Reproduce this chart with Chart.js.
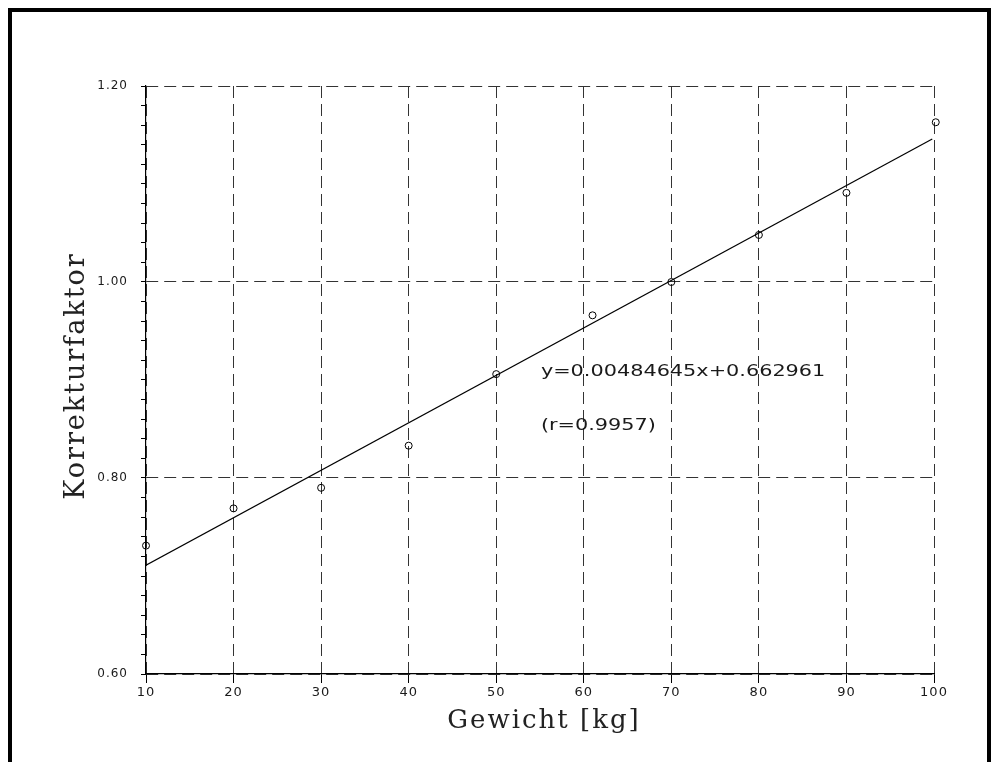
<!DOCTYPE html>
<html>
<head>
<meta charset="utf-8">
<title>Korrekturfaktor</title>
<script src="https://cdn.jsdelivr.net/npm/chart.js@4/dist/chart.umd.min.js"></script>
<style>
  html, body { margin: 0; padding: 0; background: #fff; }
  #wrap { position: relative; width: 998px; height: 762px; overflow: hidden; }
  #frame {
    position: absolute; left: 8px; top: 8px; width: 983px; height: 800px;
    border: 4px solid #000; box-sizing: border-box; pointer-events: none;
  }
</style>
</head>
<body>
<div id="wrap">
  <canvas id="korrChart" width="998" height="762"></canvas>
  <div id="frame"></div>
</div>
<script>
const weightKg = [10, 20, 30, 40, 50, 61, 70, 80, 90, 100.2];
const correction = [0.731, 0.769, 0.790, 0.833, 0.906, 0.966, 1.000, 1.048, 1.091, 1.163];

// regression line end points (as drawn)
const fitX = [10, 99.8];
const fitY = [0.711, 1.146];

// axis ranges / ticks
const xRange = [10, 100];
const xStep = 10;
const yRange = [0.60, 1.20];
const yMinorStep = 0.02;
const yMajorStep = 0.2;

// axis titles
const xTitle = 'Gewicht [kg]';
const yTitle = 'Korrekturfaktor';

// annotation text
const equationLines = ['y=0.00484645x+0.662961', '(r=0.9957)'];
const equationX = 55.1;
const equationY = [0.908, 0.853];

const isMajorY = v => Math.abs(v / yMajorStep - Math.round(v / yMajorStep)) < 1e-6;

// plotter style fonts are wide, so open up the tick labels a little
const wideTicks = {
    id: 'wideTicks',
    beforeDraw(chart) {
        chart.ctx.letterSpacing = '1px';
    },
    afterDraw(chart) {
        chart.ctx.letterSpacing = '0px';
    }
};

// axis titles in a typewriter-ish serif, spaced out like the original
const axisTitles = {
    id: 'axisTitles',
    afterDraw(chart) {
        const { ctx, chartArea } = chart;
        ctx.save();
        ctx.fillStyle = '#222';
        ctx.textAlign = 'center';
        ctx.textBaseline = 'alphabetic';
        ctx.letterSpacing = '2px';

        ctx.font = '26px "DejaVu Serif"';
        ctx.fillText(xTitle, (chartArea.left + chartArea.right) / 2 + 4, 728);

        ctx.font = '27px "DejaVu Serif"';
        ctx.translate(84, (chartArea.top + chartArea.bottom) / 2 - 4);
        ctx.rotate(-Math.PI / 2);
        ctx.fillText(yTitle, 0, 0);
        ctx.restore();
    }
};

// draws the equation text, a bit wider than the plain font like the plotter output
const equationLabel = {
    id: 'equationLabel',
    afterDatasetsDraw(chart) {
        const { ctx, scales: { x, y } } = chart;
        ctx.save();
        ctx.letterSpacing = '0px';
        ctx.font = '16px "DejaVu Sans"';
        ctx.fillStyle = '#1a1a1a';
        ctx.textBaseline = 'middle';
        ctx.textAlign = 'left';
        equationLines.forEach((line, i) => {
            ctx.save();
            ctx.translate(x.getPixelForValue(equationX), y.getPixelForValue(equationY[i]));
            ctx.scale(1.3, 1);
            ctx.fillText(line, 0, 0);
            ctx.restore();
        });
        ctx.restore();
    }
};

const ctx = document.getElementById('korrChart').getContext('2d');

new Chart(ctx, {
    type: 'scatter',
    data: {
        datasets: [
            {
                label: 'Messwerte',
                data: weightKg.map((w, i) => ({ x: w, y: correction[i] })),
                pointStyle: 'circle',
                pointRadius: 3.5,
                pointBorderWidth: 1,
                pointBorderColor: '#000',
                pointBackgroundColor: 'rgba(0,0,0,0)',
                clip: false
            },
            {
                label: 'Regression',
                data: fitX.map((w, i) => ({ x: w, y: fitY[i] })),
                showLine: true,
                borderColor: '#000',
                borderWidth: 1.2,
                pointRadius: 0,
                fill: false
            }
        ]
    },
    options: {
        responsive: false,
        animation: false,
        layout: { padding: { top: 86, right: 64, bottom: 0, left: 0 } },
        plugins: {
            legend: { display: false },
            tooltip: { enabled: false }
        },
        scales: {
            x: {
                type: 'linear',
                min: xRange[0],
                max: xRange[1],
                ticks: {
                    stepSize: xStep,
                    color: '#1a1a1a',
                    font: { family: '"DejaVu Sans"', size: 13 },
                    padding: 2,
                    maxRotation: 0
                },
                grid: {
                    color: '#333',
                    lineWidth: 1,
                    tickLength: 9,
                    tickColor: '#000',
                    tickBorderDash: []
                },
                border: { color: '#000', width: 1.2, dash: [12, 6] },
                afterFit: scale => { scale.height = 88; }
            },
            y: {
                type: 'linear',
                min: yRange[0],
                max: yRange[1],
                ticks: {
                    stepSize: yMinorStep,
                    autoSkip: false,
                    color: '#1a1a1a',
                    font: { family: '"DejaVu Sans"', size: 12 },
                    padding: 13,
                    callback: v => isMajorY(v) ? v.toFixed(2) : ''
                },
                grid: {
                    color: c => isMajorY(c.tick.value) ? '#333' : 'rgba(0,0,0,0)',
                    lineWidth: 1,
                    tickLength: 5,
                    tickColor: '#000',
                    tickBorderDash: []
                },
                border: { color: '#000', width: 1.2, dash: [12, 6] },
                afterFit: scale => { scale.width = 146; }
            }
        }
    },
    plugins: [wideTicks, equationLabel, axisTitles]
});
</script>
</body>
</html>
